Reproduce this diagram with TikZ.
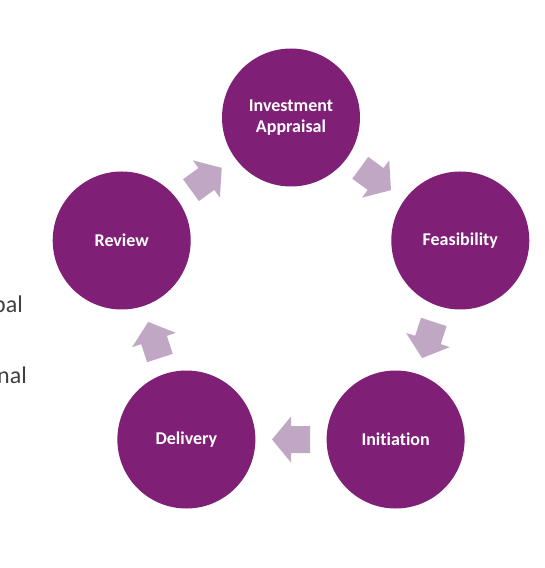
\documentclass[tikz,border=0pt]{standalone}
\usepackage{fontspec}
\setmainfont{Carlito}[Ligatures=NoCommon]
\usetikzlibrary{calc}

\definecolor{stagepurple}{RGB}{127,31,118}
\definecolor{arrowlilac}{RGB}{192,168,196}
\definecolor{sidegray}{RGB}{64,64,64}

\tikzset{%
	stage/.style={
		circle,
		fill=stagepurple,
		minimum size=138pt,
		inner sep=0pt,
		align=center,
		text=white,
		font=\fontsize{18}{21}\selectfont\bfseries
	},
	side text/.style={
		anchor=base east,
		inner sep=0pt,
		text=sidegray,
		font=\fontsize{24}{28}\selectfont
	},
	blockarrow/.pic={
		\fill[arrowlilac] (-19pt,-13.5pt) -- (0pt,-13.5pt) -- (0pt,-23pt) -- (19pt,0pt)
			-- (0pt,23pt) -- (0pt,13.5pt) -- (-19pt,13.5pt) -- cycle;
	},
}

\begin{document}
\begin{tikzpicture}[x=1pt, y=1pt]
  % page frame
\useasboundingbox (0,0) rectangle (544,568);

\coordinate (centre) at (291,272.5);

% the five stages
\foreach \a/\n/\t in {90/inv/{Investment\\Appraisal}, 18/fea/Feasibility, -54/ini/Initiation, -126/del/Delivery, 162/rev/Review}
{
	\node [stage] (\n) at ($(centre)+(\a:178pt)$) {\t};
}

% arrows between stages
\foreach \s/\e in {rev/inv, inv/fea, fea/ini, ini/del, del/rev}
\path (\s) -- pic[pos=0.5, sloped, allow upside down] {blockarrow} (\e);

% cut-off text at the left edge
\node [side text] (bal) at (23,255) {bal};
\node [side text] (nal) at (27,184) {nal};

\end{tikzpicture}
\end{document}
